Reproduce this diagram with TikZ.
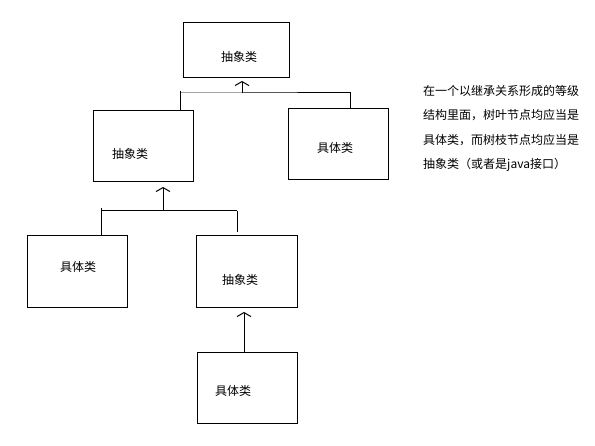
\documentclass[tikz,border=0pt]{standalone}
\usepackage{fontspec}
\setmainfont{Noto Sans CJK SC}
\usetikzlibrary{arrows.meta}
\begin{document}
\begin{tikzpicture}[x=1pt,y=-1pt,
  box/.style={draw,line width=1pt,inner sep=0pt,anchor=north west},
  lbl/.style={font=\fontsize{12}{14}\selectfont,inner sep=0pt},
  wire/.style={line width=1pt},
  arr/.style={line width=1pt,-{Straight Barb[length=4pt,width=14pt,line width=1pt]}}]
\fill[white] (0,0) rectangle (595,446);
\useasboundingbox (0,0) rectangle (595,446);
% boxes
\node[box,minimum width=106pt,minimum height=55pt] (b1) at (183,22) {};
\node[box,minimum width=100pt,minimum height=71pt] (b2) at (93,110) {};
\node[box,minimum width=100pt,minimum height=71pt] (b3) at (288,108) {};
\node[box,minimum width=100pt,minimum height=72pt] (b4) at (27,235) {};
\node[box,minimum width=101pt,minimum height=72pt] (b5) at (196,235) {};
\node[box,minimum width=100pt,minimum height=71pt] (b6) at (197,352) {};
% labels
\node[lbl] (t1) at (239,57) {抽象类};
\node[lbl] (t2) at (130,154) {抽象类};
\node[lbl] (t3) at (335,148) {具体类};
\node[lbl] (t4) at (78,267) {具体类};
\node[lbl] (t5) at (240,280) {抽象类};
\node[lbl] (t6) at (233,391) {具体类};
% top tree
\coordinate (a1) at (180,91);
\coordinate (a2) at (350,92);
\coordinate (am) at (242,93);
\draw[wire] (a1) -- (b2.north -| a1);
\draw[wire] (a1 |- am) -- (am) -- (am -| a2);
\draw[wire] (a2) -- (b3.north -| a2);
\draw[arr,shorten >=3pt] (am) -- (b1.south -| am);
% middle tree
\coordinate (c1) at (101,208);
\coordinate (c2) at (237,211);
\coordinate (cm) at (163,211);
\draw[wire] (c1) -- (b4.north -| c1);
\draw[wire] (c1 |- cm) -- (c2);
\draw[wire] (c2) -- (237,232);
\draw[arr,shorten >=5pt] (cm) -- (b2.south -| cm);
% bottom
\coordinate (d1) at (244,352);
\draw[arr,shorten >=4pt] (b6.north -| d1) -- (b5.south -| d1);
% note
\node[anchor=north west,inner sep=0pt,align=left,font=\fontsize{12}{24.5}\selectfont] (note) at (423,85)
{在一个以继承关系形成的等级\\结构里面，树叶节点均应当是\\具体类，而树枝节点均应当是\\抽象类（或者是java接口）};
\end{tikzpicture}
\end{document}
